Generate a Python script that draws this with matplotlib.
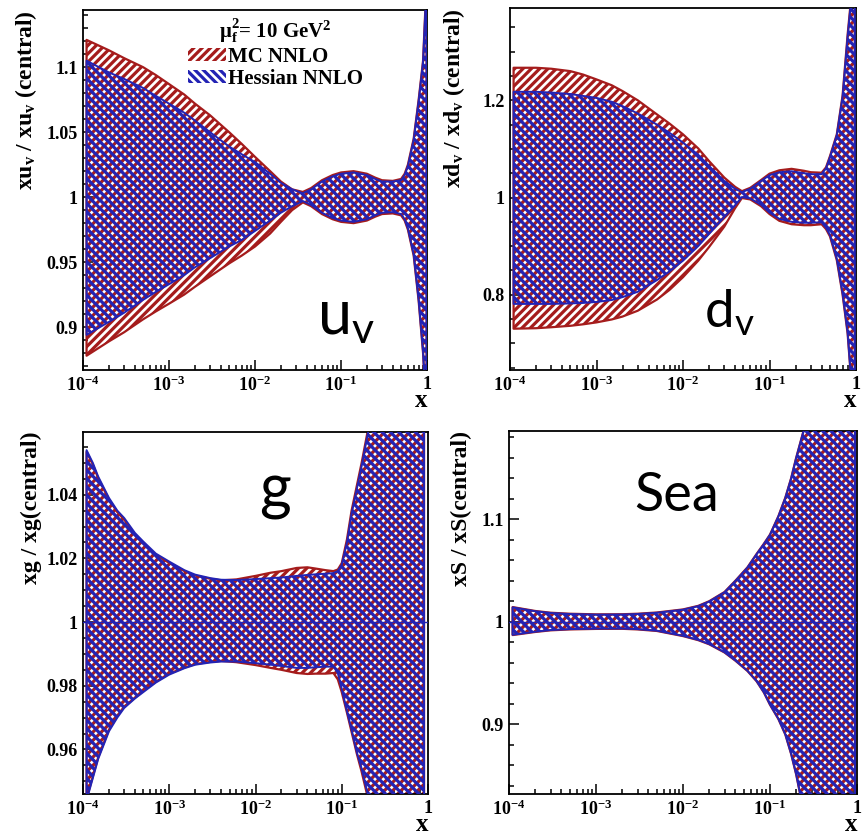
import matplotlib
matplotlib.use("Agg")
import matplotlib.pyplot as plt
from matplotlib.patches import Patch
from matplotlib.ticker import FixedLocator, MultipleLocator, LogLocator, NullFormatter

plt.rcParams['font.family'] = ['Liberation Serif', 'DejaVu Serif']
plt.rcParams['font.weight'] = 'bold'
plt.rcParams['axes.labelweight'] = 'bold'
plt.rcParams['mathtext.default'] = 'regular'
plt.rcParams['hatch.linewidth'] = 2.3
plt.rcParams['axes.linewidth'] = 1.3

RED = '#a51c1c'
BLUE = '#2323b4'

# ---------------- data ----------------
# u_v
x_uv = [1.1e-4, 2e-4, 3e-4, 5e-4, 7e-4, 1e-3, 1.5e-3, 2e-3, 3e-3, 5e-3, 7e-3, 1e-2, 1.5e-2,
        2e-2, 2.7e-2, 3.6e-2, 4.5e-2, 6e-2, 8e-2, 0.1, 0.14, 0.2, 0.25, 0.3, 0.4, 0.5, 0.55,
        0.6, 0.7, 0.8, 0.9, 0.95, 0.99]
uv_mc_hi = [1.121, 1.113, 1.107, 1.100, 1.094, 1.087, 1.079, 1.072, 1.063, 1.050, 1.041, 1.031,
            1.020, 1.012, 1.006, 1.004, 1.007, 1.013, 1.017, 1.019, 1.020, 1.018, 1.015, 1.013,
            1.0125, 1.014, 1.018, 1.025, 1.045, 1.075, 1.105, 1.140, 1.170]
uv_mc_lo = [0.878, 0.889, 0.896, 0.906, 0.912, 0.918, 0.925, 0.931, 0.939, 0.949, 0.955, 0.962,
            0.972, 0.981, 0.990, 0.996, 0.993, 0.987, 0.983, 0.981, 0.980, 0.982, 0.985, 0.987,
            0.9875, 0.986, 0.982, 0.975, 0.955, 0.920, 0.880, 0.850, 0.820]
uv_hs_hi = [1.105, 1.096, 1.091, 1.084, 1.078, 1.072, 1.065, 1.059, 1.050, 1.039, 1.033, 1.027,
            1.018, 1.011, 1.006, 1.003, 1.006, 1.012, 1.016, 1.018, 1.019, 1.017, 1.014, 1.012,
            1.012, 1.013, 1.017, 1.024, 1.044, 1.074, 1.104, 1.139, 1.170]
uv_hs_lo = [0.894, 0.904, 0.911, 0.921, 0.927, 0.933, 0.940, 0.946, 0.953, 0.962, 0.967, 0.974,
            0.982, 0.988, 0.993, 0.997, 0.994, 0.988, 0.984, 0.982, 0.981, 0.983, 0.986, 0.988,
            0.9885, 0.987, 0.983, 0.976, 0.956, 0.921, 0.881, 0.851, 0.820]

# d_v
x_dv = [1.1e-4, 2e-4, 3e-4, 5e-4, 7e-4, 1e-3, 1.5e-3, 2e-3, 3e-3, 5e-3, 7e-3, 1e-2, 1.5e-2,
        2e-2, 3e-2, 4e-2, 4.8e-2, 6e-2, 8e-2, 0.1, 0.13, 0.18, 0.25, 0.3, 0.4, 0.45, 0.5,
        0.6, 0.7, 0.8, 0.9, 0.97]
dv_mc_hi = [1.267, 1.267, 1.265, 1.260, 1.253, 1.243, 1.231, 1.219, 1.200, 1.171, 1.152, 1.130,
            1.101, 1.075, 1.041, 1.022, 1.013, 1.020, 1.036, 1.049, 1.056, 1.059, 1.055, 1.052,
            1.051, 1.062, 1.085, 1.130, 1.210, 1.335, 1.430, 1.550]
dv_mc_lo = [0.730, 0.731, 0.733, 0.736, 0.739, 0.743, 0.749, 0.755, 0.767, 0.790, 0.810, 0.836,
            0.870, 0.898, 0.940, 0.978, 0.999, 0.996, 0.982, 0.966, 0.952, 0.945, 0.943, 0.943,
            0.945, 0.935, 0.920, 0.871, 0.800, 0.720, 0.600, 0.450]
dv_hs_hi = [1.2175, 1.2175, 1.216, 1.213, 1.209, 1.205, 1.197, 1.188, 1.173, 1.150, 1.133, 1.113,
            1.088, 1.065, 1.034, 1.018, 1.011, 1.018, 1.034, 1.046, 1.052, 1.054, 1.050, 1.048,
            1.048, 1.060, 1.083, 1.128, 1.207, 1.330, 1.425, 1.550]
dv_hs_lo = [0.781, 0.781, 0.781, 0.782, 0.783, 0.785, 0.789, 0.795, 0.806, 0.830, 0.848, 0.870,
            0.900, 0.925, 0.960, 0.984, 1.001, 0.998, 0.985, 0.969, 0.956, 0.950, 0.948, 0.948,
            0.949, 0.938, 0.923, 0.874, 0.803, 0.723, 0.600, 0.450]

# gluon
x_g = [1.1e-4, 1.3e-4, 1.5e-4, 2e-4, 2.5e-4, 3e-4, 4e-4, 5e-4, 7e-4, 1e-3, 1.5e-3, 2e-3, 3e-3,
       4e-3, 6e-3, 1e-2, 1.5e-2, 2e-2, 3e-2, 4e-2, 5e-2, 6.5e-2, 8e-2, 0.09, 0.1, 0.115, 0.13,
       0.15, 0.17, 0.2, 0.3, 0.5, 0.9]
g_mc_hi = [1.0535, 1.0495, 1.0452, 1.0385, 1.0345, 1.0322, 1.0275, 1.0248, 1.0210, 1.0186,
           1.0160, 1.0146, 1.0136, 1.0131, 1.0134, 1.0145, 1.0155, 1.0160, 1.0170, 1.0172,
           1.0168, 1.0163, 1.0160, 1.0165, 1.0185, 1.0260, 1.0350, 1.0430, 1.0500, 1.0600,
           1.0800, 1.1200, 1.2000]
g_mc_lo = [0.9445, 0.9515, 0.9575, 0.9662, 0.9705, 0.9735, 0.9762, 0.9785, 0.9813, 0.9838,
           0.9857, 0.9868, 0.9875, 0.9878, 0.9874, 0.9865, 0.9856, 0.9850, 0.9840, 0.9837,
           0.9838, 0.9838, 0.9840, 0.9820, 0.9780, 0.9715, 0.9655, 0.9585, 0.9530, 0.9450,
           0.9200, 0.8800, 0.8000]
g_hs_hi = [1.0540, 1.0500, 1.0457, 1.0390, 1.0350, 1.0327, 1.0280, 1.0253, 1.0215, 1.0190,
           1.0163, 1.0149, 1.0138, 1.0133, 1.0132, 1.0135, 1.0138, 1.0140, 1.0145, 1.0148,
           1.0150, 1.0152, 1.0154, 1.0160, 1.0180, 1.0250, 1.0340, 1.0420, 1.0490, 1.0590,
           1.0790, 1.1190, 1.1990]
g_hs_lo = [0.9440, 0.9510, 0.9570, 0.9657, 0.9700, 0.9730, 0.9760, 0.9780, 0.9810, 0.9835,
           0.9855, 0.9866, 0.9873, 0.9876, 0.9876, 0.9871, 0.9866, 0.9862, 0.9856, 0.9856,
           0.9858, 0.9860, 0.9860, 0.9840, 0.9790, 0.9720, 0.9662, 0.9590, 0.9540, 0.9460,
           0.9210, 0.8810, 0.8010]

# sea
x_s = [1.1e-4, 2e-4, 3e-4, 5e-4, 1e-3, 2e-3, 3e-3, 5e-3, 1e-2, 1.5e-2, 2e-2, 3e-2, 4e-2,
       5.5e-2, 7e-2, 0.085, 0.1, 0.125, 0.15, 0.175, 0.2, 0.25, 0.4, 0.7, 0.95]
s_mc_hi = [1.0143, 1.0105, 1.0088, 1.0078, 1.0072, 1.0073, 1.0078, 1.0090, 1.0120, 1.0155,
           1.0200, 1.0290, 1.0400, 1.0530, 1.0660, 1.0760, 1.0850, 1.1030, 1.1210, 1.1400,
           1.1600, 1.1900, 1.3000, 1.5000, 1.7000]
s_mc_lo = [0.9870, 0.9900, 0.9916, 0.9925, 0.9930, 0.9931, 0.9925, 0.9910, 0.9860, 0.9820,
           0.9780, 0.9700, 0.9620, 0.9520, 0.9420, 0.9310, 0.9190, 0.9050, 0.8900, 0.8710,
           0.8510, 0.8100, 0.7000, 0.5000, 0.3000]
s_hs_hi = [1.0140, 1.0102, 1.0085, 1.0075, 1.0069, 1.0070, 1.0075, 1.0087, 1.0117, 1.0152,
           1.0197, 1.0287, 1.0397, 1.0527, 1.0657, 1.0757, 1.0847, 1.1027, 1.1207, 1.1397,
           1.1597, 1.1897, 1.2997, 1.4997, 1.6997]
s_hs_lo = [0.9873, 0.9903, 0.9919, 0.9928, 0.9933, 0.9934, 0.9928, 0.9913, 0.9863, 0.9823,
           0.9783, 0.9703, 0.9623, 0.9523, 0.9423, 0.9313, 0.9193, 0.9053, 0.8903, 0.8713,
           0.8513, 0.8103, 0.7003, 0.5003, 0.3003]

xtick_vals = [1e-4, 1e-3, 1e-2, 1e-1, 1]
xtick_labels = ['$10^{-4}$', '$10^{-3}$', '$10^{-2}$', '$10^{-1}$', '1']

panels = [
    dict(pos=[83/866, 1-370/835, 344/866, 360/835], x=x_uv,
         mc=(uv_mc_lo, uv_mc_hi), hs=(uv_hs_lo, uv_hs_hi), ylim=(0.867, 1.144),
         yt=[0.9, 0.95, 1.0, 1.05, 1.1], ytl=['0.9', '0.95', '1', '1.05', '1.1'], ymin=0.01,
         ylabel='xu$_v$ / xu$_v$ (central)', lx=-0.128, tag='u$_v$', tpos=(0.68, 0.10), tsize=44,
         central=False),
    dict(pos=[510/866, 1-370/835, 346/866, 362/835], x=x_dv,
         mc=(dv_mc_lo, dv_mc_hi), hs=(dv_hs_lo, dv_hs_hi), ylim=(0.645, 1.39),
         yt=[0.8, 1.0, 1.2], ytl=['0.8', '1', '1.2'], ymin=0.05,
         ylabel='xd$_v$ / xd$_v$ (central)', lx=-0.124, tag='d$_v$', tpos=(0.56, 0.115), tsize=38,
         central=False),
    dict(pos=[83/866, 1-794/835, 345/866, 362/835], x=x_g,
         mc=(g_mc_lo, g_mc_hi), hs=(g_hs_lo, g_hs_hi), ylim=(0.946, 1.0597),
         yt=[0.96, 0.98, 1.0, 1.02, 1.04], ytl=['0.96', '0.98', '1', '1.02', '1.04'], ymin=0.005,
         ylabel='xg / xg(central)', lx=-0.119, tag='g', tpos=(0.51, 0.79), tsize=44,
         central=True),
    dict(pos=[509/866, 1-794/835, 348/866, 363/835], x=x_s,
         mc=(s_mc_lo, s_mc_hi), hs=(s_hs_lo, s_hs_hi), ylim=(0.832, 1.186),
         yt=[0.9, 1.0, 1.1], ytl=['0.9', '1', '1.1'], ymin=0.02,
         ylabel='xS / xS(central)', lx=-0.106, tag='Sea', tpos=(0.36, 0.78), tsize=39,
         central=True),
]

fig = plt.figure(figsize=(8.66, 8.35), dpi=100)

for i, p in enumerate(panels):
    ax = fig.add_axes(p['pos'])
    ax.set_xscale('log')
    ax.fill_between(p['x'], p['mc'][0], p['mc'][1], facecolor='none', edgecolor=RED,
                    hatch='////', linewidth=1.6, zorder=2)
    ax.fill_between(p['x'], p['hs'][0], p['hs'][1], facecolor='none', edgecolor=BLUE,
                    hatch='\\\\\\\\', linewidth=1.4, zorder=3)
    if p['central']:
        ax.axhline(1.0, color=BLUE, lw=1.0, zorder=4)
    ax.set_xlim(1e-4, 1)
    ax.set_ylim(*p['ylim'])
    ax.xaxis.set_major_locator(FixedLocator(xtick_vals))
    ax.set_xticklabels(xtick_labels)
    ax.xaxis.set_minor_locator(LogLocator(base=10, subs=range(2, 10), numticks=20))
    ax.xaxis.set_minor_formatter(NullFormatter())
    ax.yaxis.set_major_locator(FixedLocator(p['yt']))
    ax.set_yticklabels(p['ytl'])
    ax.yaxis.set_minor_locator(MultipleLocator(p['ymin']))
    ax.tick_params(which='both', direction='in', top=False, right=False, labelsize=13,
                   width=1.1, pad=4)
    ax.tick_params(which='major', length=7)
    ax.tick_params(which='minor', length=3.5)
    ax.set_ylabel(p['ylabel'], loc='top', fontsize=17)
    ax.yaxis.set_label_coords(p['lx'], 1.0)
    ax.set_xlabel('x', loc='right', fontsize=18, labelpad=-4)
    ax.text(p['tpos'][0], p['tpos'][1], p['tag'], transform=ax.transAxes,
            fontsize=p['tsize'], family='Lato', fontweight='normal', color='black', zorder=6)
    if i == 0:
        handles = [Patch(facecolor='none', edgecolor=RED, hatch='////', linewidth=0),
                   Patch(facecolor='none', edgecolor=BLUE, hatch='\\\\\\\\', linewidth=0)]
        leg = ax.legend(handles, ['MC NNLO', 'Hessian NNLO'], loc='upper left',
                        bbox_to_anchor=(0.30, 0.985), frameon=False, fontsize=15,
                        title='μ$_f^2$= 10 GeV$^2$', title_fontsize=15,
                        handlelength=1.8, handleheight=0.6, handletextpad=0.1,
                        labelspacing=0.1, borderpad=0.1, borderaxespad=0)
        leg.get_title().set_fontweight('bold')
        leg.set_zorder(7)

fig.savefig('out.png', dpi=100)
